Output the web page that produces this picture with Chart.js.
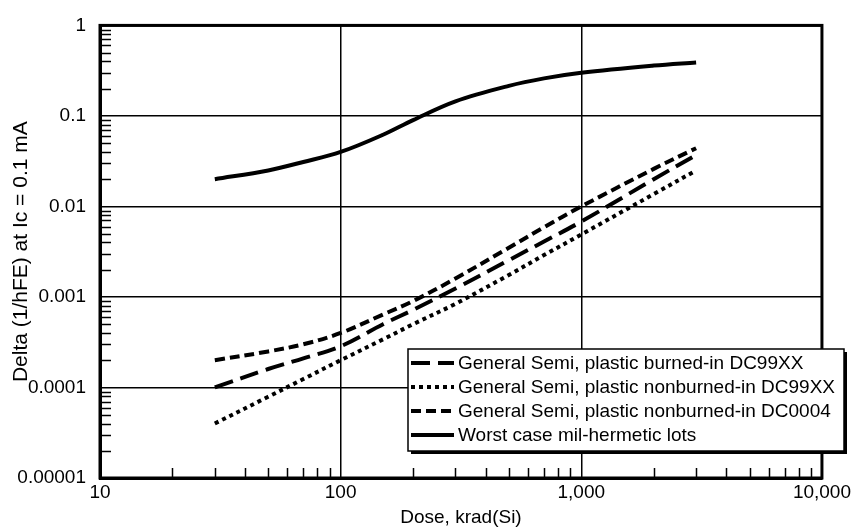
<!DOCTYPE html>
<html lang="en">
<head>
    <meta charset="UTF-8">
    <title>Delta (1/hFE) vs Dose</title>
    <script src="https://cdn.jsdelivr.net/npm/chart.js"></script>
    <style>
        html, body {
            margin: 0;
            padding: 0;
            background: #ffffff;
        }
        #grafico {
            display: block;
        }
    </style>
</head>
<body>
    <canvas id="grafico" width="854" height="529"></canvas>

    <script>
        // Dosis (krad(Si)) en las que se leen las curvas
        const dosis = [30, 50, 70, 100, 150, 200, 300, 500, 700, 1000, 2000, 3000];

        // Delta (1/hFE) a Ic = 0.1 mA
        const quemado99XX = [0.0001, 0.00016, 0.00021, 0.000285, 0.0005, 0.00072, 0.00124, 0.00255, 0.0041, 0.0068, 0.02, 0.037];
        const noQuemado99XX = [0.00004, 0.000079, 0.000124, 0.0002, 0.00034, 0.0005, 0.00084, 0.00175, 0.0029, 0.0049, 0.0137, 0.025];
        const noQuemado0004 = [0.0002, 0.00025, 0.0003, 0.0004, 0.00064, 0.0009, 0.0016, 0.0035, 0.0059, 0.01, 0.026, 0.044];
        const peorCaso = [0.02, 0.025, 0.031, 0.04, 0.062, 0.09, 0.145, 0.215, 0.26, 0.3, 0.36, 0.39];

        const nombresSeries = [
            'General Semi, plastic burned-in DC99XX',
            'General Semi, plastic nonburned-in DC99XX',
            'General Semi, plastic nonburned-in DC0004',
            'Worst case mil-hermetic lots'
        ];

        const ticksX = [10, 100, 1000, 10000];
        const etiquetasX = ['10', '100', '1,000', '10,000'];
        const ticksY = [0.00001, 0.0001, 0.001, 0.01, 0.1, 1];
        const etiquetasY = ['0.00001', '0.0001', '0.001', '0.01', '0.1', '1'];

        const fuente = "'Liberation Sans', Arial, sans-serif";

        const puntos = valores => dosis.map((d, i) => ({ x: d, y: valores[i] }));

        // Marcas menores hacia dentro y marco completo
        const marcasMenores = {
            id: 'marcasMenores',
            afterDatasetsDraw(chart) {
                const { ctx, chartArea, scales } = chart;
                ctx.save();
                ctx.strokeStyle = '#000';
                ctx.lineWidth = 1.5;
                ctx.beginPath();
                for (let e = 1; e <= 3; e++) {
                    for (let k = 2; k <= 9; k++) {
                        const px = Math.round(scales.x.getPixelForValue(k * Math.pow(10, e))) + 0.5;
                        ctx.moveTo(px, chartArea.bottom);
                        ctx.lineTo(px, chartArea.bottom - 10);
                    }
                }
                for (let e = -5; e <= -1; e++) {
                    for (let k = 2; k <= 9; k++) {
                        const py = Math.round(scales.y.getPixelForValue(k * Math.pow(10, e))) + 0.5;
                        ctx.moveTo(chartArea.left, py);
                        ctx.lineTo(chartArea.left + 11, py);
                    }
                }
                ctx.stroke();

                ctx.lineWidth = 3;
                ctx.strokeRect(chartArea.left, chartArea.top, chartArea.right - chartArea.left, chartArea.bottom - chartArea.top);
                ctx.restore();
            }
        };

        // Leyenda en recuadro con sombra, dentro del área del gráfico
        const leyendaCaja = {
            id: 'leyendaCaja',
            afterDraw(chart) {
                const ctx = chart.ctx;
                const x0 = 408, y0 = 349, ancho = 436, alto = 102;
                ctx.save();
                ctx.fillStyle = '#000';
                ctx.fillRect(x0 + 3, y0 + 3, ancho, alto);
                ctx.fillStyle = '#fff';
                ctx.fillRect(x0, y0, ancho, alto);
                ctx.strokeStyle = '#000';
                ctx.lineWidth = 1.5;
                ctx.strokeRect(x0, y0, ancho, alto);

                ctx.font = '19px ' + fuente;
                ctx.textBaseline = 'middle';
                ctx.fillStyle = '#000';
                chart.data.datasets.forEach((ds, i) => {
                    const y = y0 + 14 + i * 24;
                    ctx.lineWidth = ds.borderWidth;
                    ctx.lineCap = 'butt';
                    ctx.setLineDash(ds.borderDash || []);
                    ctx.beginPath();
                    ctx.moveTo(x0 + 3, y);
                    ctx.lineTo(x0 + 46, y);
                    ctx.stroke();
                    ctx.setLineDash([]);
                    ctx.fillText(ds.label, x0 + 50, y + 1);
                });
                ctx.restore();
            }
        };

        const estiloLinea = {
            borderColor: '#000',
            backgroundColor: '#000',
            pointRadius: 0,
            fill: false,
            borderCapStyle: 'butt',
            tension: 0.35
        };

        const grafico = new Chart(document.getElementById('grafico'), {
            type: 'line',
            data: {
                datasets: [
                    { ...estiloLinea, label: nombresSeries[0], data: puntos(quemado99XX), borderWidth: 4, borderDash: [19, 8] },
                    { ...estiloLinea, label: nombresSeries[1], data: puntos(noQuemado99XX), borderWidth: 4, borderDash: [4, 4] },
                    { ...estiloLinea, label: nombresSeries[2], data: puntos(noQuemado0004), borderWidth: 4, borderDash: [10, 5] },
                    { ...estiloLinea, label: nombresSeries[3], data: puntos(peorCaso), borderWidth: 4 }
                ]
            },
            options: {
                responsive: false,
                devicePixelRatio: 1,
                animation: false,
                layout: {
                    padding: { top: 14, right: 32, left: 0, bottom: 0 }
                },
                plugins: {
                    legend: { display: false },
                    tooltip: { enabled: false }
                },
                scales: {
                    x: {
                        type: 'logarithmic',
                        min: 10,
                        max: 10000,
                        afterBuildTicks: scale => { scale.ticks = ticksX.map(v => ({ value: v })); },
                        afterFit: scale => { scale.height = 51; },
                        ticks: {
                            autoSkip: false,
                            maxRotation: 0,
                            padding: 3,
                            color: '#000',
                            font: { family: fuente, size: 19 },
                            callback: (v, i) => etiquetasX[i]
                        },
                        grid: { color: '#000', lineWidth: 1.5, drawTicks: false },
                        border: { color: '#000', width: 3 },
                        title: {
                            display: true,
                            text: 'Dose, krad(Si)',
                            color: '#000',
                            font: { family: fuente, size: 19 },
                            padding: { top: 0, bottom: 0 }
                        }
                    },
                    y: {
                        type: 'logarithmic',
                        min: 0.00001,
                        max: 1,
                        afterBuildTicks: scale => { scale.ticks = ticksY.map(v => ({ value: v })); },
                        afterFit: scale => { scale.width = 100; },
                        ticks: {
                            autoSkip: false,
                            padding: 14,
                            color: '#000',
                            font: { family: fuente, size: 19 },
                            callback: (v, i) => etiquetasY[i]
                        },
                        grid: { color: '#000', lineWidth: 1.5, drawTicks: false },
                        border: { color: '#000', width: 3 },
                        title: {
                            display: true,
                            text: 'Delta (1/hFE) at Ic = 0.1 mA',
                            color: '#000',
                            font: { family: fuente, size: 21 },
                            padding: { top: 9, bottom: 0 }
                        }
                    }
                }
            },
            plugins: [marcasMenores, leyendaCaja]
        });
    </script>
</body>
</html>
